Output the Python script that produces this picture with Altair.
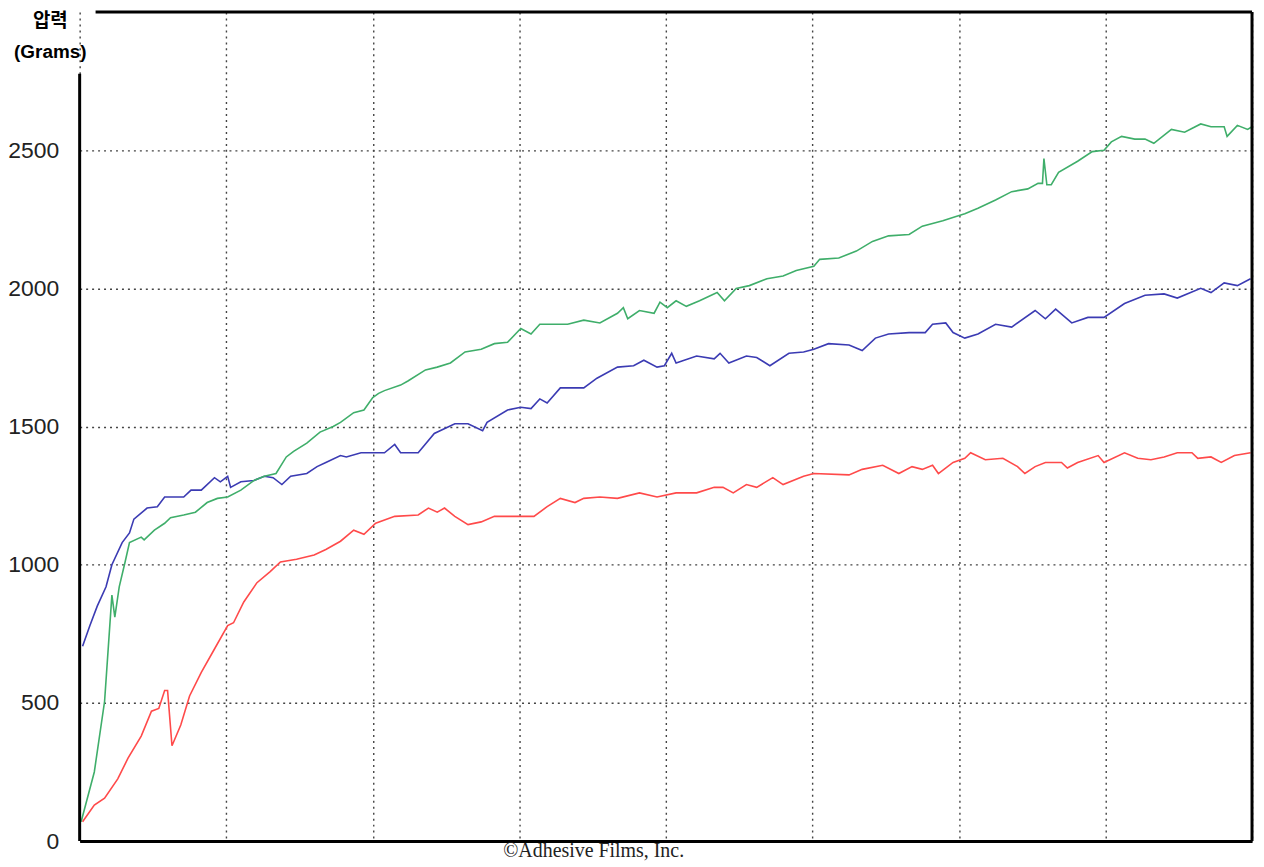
import altair as alt
import pandas as pd

# Series (x in grid units 0..8, y in grams)
blue_x = [0.02, 0.07, 0.12, 0.18, 0.22, 0.29, 0.34, 0.37, 0.46, 0.53, 0.58, 0.71, 0.76, 0.83, 0.92, 0.96,
          1.01, 1.03, 1.10, 1.19, 1.26, 1.32, 1.38, 1.44, 1.55, 1.62, 1.68, 1.78, 1.82, 1.92, 2.00, 2.08,
          2.15, 2.19, 2.31, 2.42, 2.56, 2.65, 2.75, 2.78, 2.92, 3.01, 3.08, 3.14, 3.19, 3.28, 3.44, 3.53,
          3.67, 3.78, 3.85, 3.94, 3.99, 4.04, 4.07, 4.21, 4.33, 4.37, 4.43, 4.55, 4.62, 4.71, 4.84, 4.94,
          5.01, 5.11, 5.25, 5.34, 5.43, 5.52, 5.66, 5.77, 5.82, 5.91, 5.96, 6.04, 6.13, 6.25, 6.36, 6.52,
          6.59, 6.66, 6.77, 6.88, 6.99, 7.13, 7.27, 7.40, 7.49, 7.65, 7.72, 7.81, 7.90, 7.99]
blue_y = [705, 780, 850, 920, 1000, 1080, 1115, 1165, 1205, 1210, 1245, 1245, 1270, 1270, 1315, 1300,
          1320, 1280, 1300, 1305, 1320, 1315, 1290, 1320, 1330, 1355, 1370, 1395, 1390, 1405, 1405, 1405,
          1435, 1405, 1405, 1475, 1510, 1510, 1485, 1515, 1560, 1570, 1565, 1600, 1585, 1640, 1640, 1675,
          1715, 1720, 1740, 1715, 1720, 1765, 1730, 1755, 1745, 1765, 1730, 1755, 1750, 1720, 1765, 1770,
          1780, 1800, 1795, 1775, 1820, 1835, 1840, 1840, 1870, 1875, 1840, 1820, 1835, 1870, 1860, 1920,
          1890, 1925, 1875, 1895, 1895, 1945, 1975, 1980, 1965, 2000, 1985, 2020, 2010, 2035]

green_x = [0.01, 0.10, 0.17, 0.22, 0.24, 0.27, 0.31, 0.34, 0.42, 0.44, 0.51, 0.58, 0.62, 0.71, 0.79, 0.87,
           0.94, 1.01, 1.10, 1.19, 1.26, 1.34, 1.41, 1.46, 1.55, 1.64, 1.73, 1.78, 1.87, 1.94, 2.00, 2.04,
           2.08, 2.19, 2.24, 2.36, 2.44, 2.53, 2.63, 2.74, 2.83, 2.92, 3.01, 3.08, 3.14, 3.33, 3.44, 3.55,
           3.67, 3.71, 3.74, 3.82, 3.92, 3.96, 4.01, 4.07, 4.14, 4.23, 4.35, 4.40, 4.48, 4.57, 4.69, 4.80,
           4.89, 5.01, 5.05, 5.18, 5.30, 5.41, 5.52, 5.66, 5.75, 5.89, 5.98, 6.04, 6.13, 6.25, 6.36, 6.47,
           6.54, 6.57, 6.58, 6.60, 6.63, 6.68, 6.81, 6.91, 6.99, 7.04, 7.11, 7.20, 7.27, 7.33, 7.45, 7.54,
           7.65, 7.72, 7.81, 7.83, 7.90, 7.97, 8.00]
green_y = [70, 250, 505, 890, 810, 920, 1010, 1080, 1100, 1090, 1125, 1150, 1170, 1180, 1190, 1225,
           1240, 1245, 1270, 1305, 1320, 1330, 1390, 1410, 1440, 1480, 1500, 1515, 1550, 1560, 1605, 1620,
           1630, 1650, 1665, 1705, 1715, 1730, 1770, 1780, 1800, 1805, 1855, 1835, 1870, 1870, 1885, 1875,
           1910, 1930, 1890, 1920, 1910, 1950, 1930, 1955, 1935, 1955, 1985, 1955, 2000, 2010, 2035, 2045,
           2065, 2080, 2105, 2110, 2135, 2170, 2190, 2195, 2225, 2245, 2260, 2270, 2290, 2320, 2350, 2360,
           2380, 2380, 2470, 2375, 2375, 2420, 2460, 2495, 2500, 2530, 2550, 2540, 2540, 2525, 2575, 2565,
           2595, 2585, 2585, 2550, 2590, 2575, 2585]

red_x = [0.02, 0.10, 0.17, 0.26, 0.33, 0.42, 0.49, 0.54, 0.58, 0.60, 0.63, 0.69, 0.75, 0.83, 0.92, 1.01,
         1.05, 1.12, 1.21, 1.30, 1.37, 1.48, 1.60, 1.68, 1.78, 1.87, 1.94, 2.02, 2.15, 2.31, 2.38, 2.44,
         2.49, 2.56, 2.65, 2.74, 2.83, 3.10, 3.19, 3.28, 3.38, 3.44, 3.55, 3.67, 3.82, 3.94, 4.07, 4.21,
         4.33, 4.39, 4.46, 4.55, 4.62, 4.73, 4.80, 4.94, 5.01, 5.25, 5.34, 5.48, 5.59, 5.68, 5.75, 5.82,
         5.86, 5.96, 6.04, 6.08, 6.18, 6.30, 6.40, 6.45, 6.52, 6.59, 6.70, 6.74, 6.81, 6.95, 6.99, 7.13,
         7.22, 7.31, 7.40, 7.49, 7.59, 7.63, 7.72, 7.79, 7.88, 7.99]
red_y = [70, 130, 155, 225, 300, 380, 470, 480, 545, 545, 345, 420, 525, 610, 695, 780,
         790, 865, 935, 975, 1010, 1020, 1035, 1055, 1085, 1125, 1110, 1150, 1175, 1180, 1205, 1190,
         1205, 1175, 1145, 1155, 1175, 1175, 1210, 1240, 1225, 1240, 1245, 1240, 1260, 1245, 1260, 1260,
         1280, 1280, 1260, 1290, 1280, 1315, 1290, 1320, 1330, 1325, 1345, 1360, 1330, 1355, 1345, 1360,
         1330, 1370, 1385, 1405, 1380, 1385, 1355, 1330, 1355, 1370, 1370, 1350, 1370, 1395, 1370, 1405,
         1385, 1380, 1390, 1405, 1405, 1385, 1390, 1370, 1395, 1405]

series_names = ["blue", "green", "red"]
series_colors = ["#3b3bb3", "#3fae6a", "#ff4a4a"]
y_ticks = [0, 500, 1000, 1500, 2000, 2500]
x_grid = [0, 1, 2, 3, 4, 5, 6, 7, 8]

frames = []
for name, xs, ys in [("blue", blue_x, blue_y), ("green", green_x, green_y), ("red", red_x, red_y)]:
    frames.append(pd.DataFrame({"t": xs, "g": ys, "s": name, "o": range(len(xs))}))
df = pd.concat(frames, ignore_index=True)

W, H = 1178, 833

x_enc = alt.X("t:Q", scale=alt.Scale(domain=[0, 8], nice=False, zero=False),
              axis=alt.Axis(values=x_grid, labels=False, ticks=False, domain=True,
                            domainColor="#000", domainWidth=3,
                            grid=True, gridColor="#444", gridDash=[2, 4], gridWidth=1.4,
                            title="©Adhesive Films, Inc.", titleFont="Liberation Serif",
                            titleFontSize=20, titleFontWeight="normal", titleColor="#222",
                            titleX=516, titleY=10, titleBaseline="middle", titleAlign="center"))
y_enc = alt.Y("g:Q", scale=alt.Scale(domain=[0, 3000], nice=False),
              axis=alt.Axis(values=y_ticks, format="d", domain=False, ticks=False, labelPadding=21,
                            labelFont="Liberation Sans", labelFontSize=23, labelColor="#222",
                            grid=True, gridColor="#444", gridDash=[2, 4], gridWidth=1.4,
                            title=["압력", "(Grams)"],
                            titleFont="Liberation Sans, Noto Sans CJK KR, sans-serif",
                            titleFontSize=19, titleFontWeight="bold", titleColor="#000",
                            titleAngle=0, titleAlign="center", titleBaseline="top",
                            titleX=-30, titleY=0, titleLineHeight=31))

lines = alt.Chart(df).mark_line(strokeWidth=1.6, interpolate="linear").encode(
    x=x_enc, y=y_enc,
    color=alt.Color("s:N", scale=alt.Scale(domain=series_names, range=series_colors), legend=None),
    order="o:Q",
)

frame_df = pd.DataFrame({"k": [0]})
top = alt.Chart(frame_df).mark_rule(color="#000", strokeWidth=3).encode(
    x=alt.value(16), x2=alt.value(W), y=alt.value(0))
right = alt.Chart(frame_df).mark_rule(color="#000", strokeWidth=3).encode(
    x=alt.value(W), y=alt.value(0), y2=alt.value(H))
left = alt.Chart(frame_df).mark_rule(color="#000", strokeWidth=3).encode(
    x=alt.value(0), y=alt.value(62), y2=alt.value(H))

chart = alt.layer(lines, top, right, left).properties(
    width=W, height=H,
    autosize=alt.AutoSizeParams(type="none"),
    padding={"left": 72, "top": 2, "right": 4, "bottom": 20},
    background="white",
).configure_view(stroke=None)

chart.save("out.html", embed_options={"renderer": "svg", "actions": False})
